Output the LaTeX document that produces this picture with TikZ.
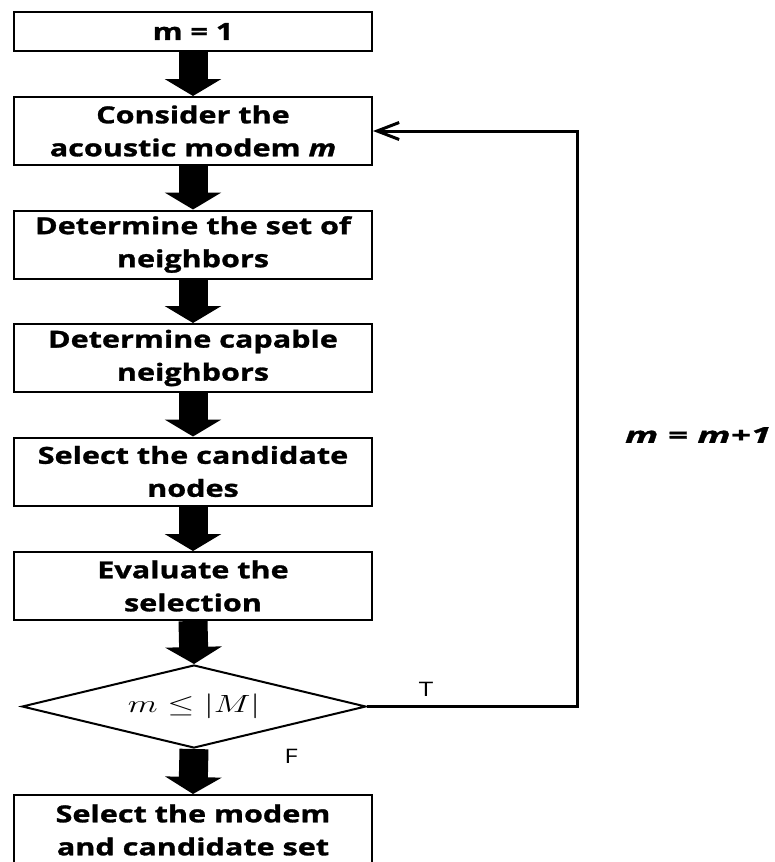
\documentclass[tikz,border=0pt]{standalone}
\usepackage{fontspec}
\setmainfont{Open Sans}
\newfontfamily\widefont[FakeStretch=1.3,BoldFeatures={FakeStretch=1.3,FakeBold=1.2},ItalicFeatures={FakeStretch=1.3},BoldItalicFeatures={FakeStretch=1.3,FakeBold=1.2}]{Open Sans}
\usetikzlibrary{arrows.meta,shapes.geometric}
\begin{document}
\begin{tikzpicture}[x=1pt,y=-1pt,
  box/.style={draw,line width=2pt,minimum width=358pt,minimum height=68pt,inner sep=0pt,
    align=center,font=\widefont\bfseries\fontsize{23.5}{33}\selectfont},
  blk/.style={line width=29pt,-{Triangle[width=56pt,length=17pt]}},
  lbl/.style={font=\widefont\fontsize{20}{24}\selectfont,inner sep=0pt},
  loop/.style={line width=3pt,-{Straight Barb[length=22pt,width=17pt,line width=3pt]}}
  ]
\useasboundingbox (0,0) rectangle (774,862);
\node[box,minimum height=39pt] (b1) at (193,31.5) {m = 1};
\node[box] (b2) at (193,131) {Consider the\\acoustic modem \itshape m};
\node[box] (b3) at (193,244.5) {Determine the set of\\neighbors};
\node[box] (b4) at (193,358) {Determine capable\\neighbors};
\node[box] (b5) at (193,471.5) {Select the candidate\\nodes};
\node[box] (b6) at (193,586) {Evaluate the\\selection};
\node[diamond,aspect=4.14,draw,line width=2pt,minimum width=344pt,minimum height=83pt,inner sep=0pt,
  font=\fontsize{25}{28}\selectfont] (d) at (194,706.5) {\scalebox{1.4}[1]{$m \le |M|$}};
\node[box,minimum height=70pt] (b7) at (193,830) {Select the modem\\and candidate set};
\draw[blk] (b1.south) -- (b2.north);
\draw[blk] (b2.south) -- (b3.north);
\draw[blk] (b3.south) -- (b4.north);
\draw[blk] (b4.south) -- (b5.north);
\draw[blk] (b5.south) -- (b6.north);
\draw[blk] (b6.south) -- (d.north);
\draw[blk] (d.south) -- (b7.north);
\coordinate (c) at (577,131);
\draw[loop] (d.east) -| (c) -- (b2.east);
\node[lbl] (t) at (426,689) {T};
\node[lbl] (f) at (291,756) {F};
\node[font=\widefont\bfseries\itshape\fontsize{22}{24}\selectfont,inner sep=0pt] (inc) at (698,435) {\scalebox{1.28}[1]{m = m+1}};
\end{tikzpicture}
\end{document}
